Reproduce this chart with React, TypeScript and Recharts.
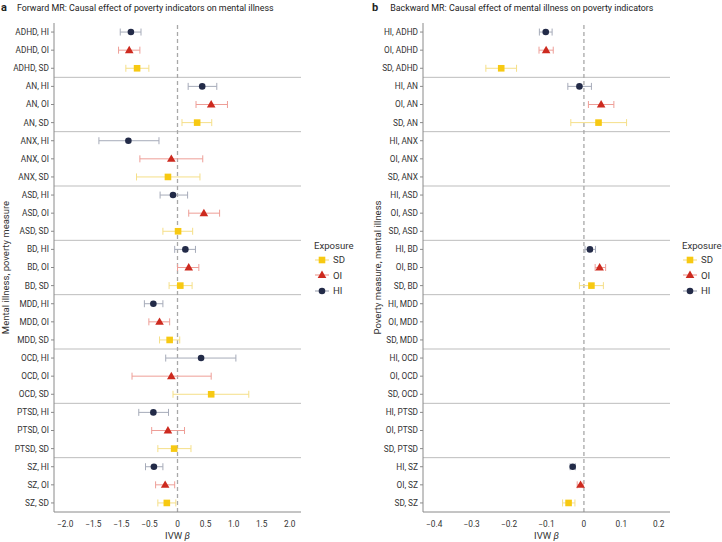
import React from "react";
import {
  ScatterChart,
  Scatter,
  XAxis,
  YAxis,
  ErrorBar,
  ReferenceLine,
} from "recharts";

const disorders = ["ADHD", "AN", "ANX", "ASD", "BD", "MDD", "OCD", "PTSD", "SZ"];
const exposures = ["HI", "OI", "SD"];

// forward MR: poverty indicator -> mental illness
const fwdHI = [-0.83, 0.44, -0.875, -0.08, 0.14, -0.43, 0.42, -0.43, -0.42];
const fwdHILow = [-1.02, 0.19, -1.4, -0.31, -0.05, -0.59, -0.21, -0.69, -0.57];
const fwdHIHigh = [-0.65, 0.7, -0.33, 0.18, 0.32, -0.26, 1.04, -0.16, -0.26];
const fwdOI = [-0.86, 0.6, -0.11, 0.47, 0.2, -0.32, -0.11, -0.17, -0.22];
const fwdOILow = [-1.05, 0.33, -0.67, 0.2, 0.0, -0.51, -0.81, -0.46, -0.39];
const fwdOIHigh = [-0.67, 0.89, 0.45, 0.75, 0.38, -0.14, 0.6, 0.125, -0.05];
const fwdSD = [-0.72, 0.35, -0.17, 0.01, 0.05, -0.14, 0.6, -0.06, -0.19];
const fwdSDLow = [-0.92, 0.08, -0.73, -0.26, -0.15, -0.32, -0.08, -0.35, -0.35];
const fwdSDHigh = [-0.51, 0.61, 0.4, 0.27, 0.26, 0.04, 1.27, 0.24, -0.03];

// backward MR: mental illness -> poverty indicator (null = not estimated)
const bwdHI = [-0.102, -0.012, null, null, 0.016, null, null, null, -0.03];
const bwdHILow = [-0.119, -0.043, null, null, 0.003, null, null, null, -0.037];
const bwdHIHigh = [-0.085, 0.02, null, null, 0.031, null, null, null, -0.023];
const bwdOI = [-0.101, 0.046, null, null, 0.042, null, null, null, -0.009];
const bwdOILow = [-0.12, 0.012, null, null, 0.03, null, null, null, -0.018];
const bwdOIHigh = [-0.082, 0.08, null, null, 0.058, null, null, null, -0.002];
const bwdSD = [-0.221, 0.039, null, null, 0.02, null, null, null, -0.041];
const bwdSDLow = [-0.262, -0.035, null, null, -0.012, null, null, null, -0.057];
const bwdSDHigh = [-0.18, 0.114, null, null, 0.052, null, null, null, -0.024];

const fwdTicks = [-2, -1.5, -1, -0.5, 0, 0.5, 1, 1.5, 2];
const fwdTickLabels = ["−2.0", "−1.5", "−1.5", "−0.5", "0", "0.5", "1.0", "1.5", "2.0"];
const bwdTicks = [-0.4, -0.3, -0.2, -0.1, 0, 0.1, 0.2];
const bwdTickLabels = ["−0.4", "−0.3", "−0.2", "−0.1", "0", "0.1", "0.2"];

const fwdLabels = disorders.flatMap((d) => exposures.map((e) => `${d}, ${e}`));
const bwdLabels = disorders.flatMap((d) => exposures.map((e) => `${e}, ${d}`));
const rowTicks = fwdLabels.map((_, i) => i);
const groupLines = disorders.slice(1).map((_, i) => i * 3 + 2.5);

const DOT = { HI: "#232b48", OI: "#cd2a1f", SD: "#f7c912" };
const BAR = { HI: "#a6abb9", OI: "#ee9e97", SD: "#f5df88" };
const FONT = "Roboto, sans-serif";
const TICK_SIZE = 8.3;

function rows(offset: number, beta: (number | null)[], lo: (number | null)[], hi: (number | null)[]) {
  const out: { x: number; y: number; err: [number, number] }[] = [];
  beta.forEach((b, i) => {
    if (b === null) return;
    out.push({ x: b, y: i * 3 + offset, err: [b - (lo[i] as number), (hi[i] as number) - b] });
  });
  return out;
}

const Circle = (p: any) => <circle cx={p.cx} cy={p.cy} r={3.3} fill={DOT.HI} />;
const Square = (p: any) => (
  <rect x={p.cx - 3.3} y={p.cy - 3.3} width={6.6} height={6.6} fill={DOT.SD} />
);
const Triangle = (p: any) => (
  <path
    d={`M${p.cx},${p.cy - 4.4} L${p.cx + 4.3},${p.cy + 3} L${p.cx - 4.3},${p.cy + 3} Z`}
    fill={DOT.OI}
  />
);

function XLabel({ viewBox }: any) {
  const cx = viewBox.x + viewBox.width / 2;
  return (
    <text x={cx} y={viewBox.y + 27} textAnchor="middle" fontSize={9.5} fill="#333" fontFamily={FONT}>
      IVW <tspan fontStyle="italic">β</tspan>
    </text>
  );
}

function YLabel({ viewBox, text, px }: any) {
  const cy = viewBox.y + viewBox.height / 2;
  return (
    <text
      x={px}
      y={cy}
      transform={`rotate(-90, ${px}, ${cy})`}
      textAnchor="middle"
      fontSize={9.5}
      fill="#333"
      fontFamily={FONT}
    >
      {text}
    </text>
  );
}

function RowTick({ x, y, payload, labels }: any) {
  return (
    <text x={x} y={y} dy="0.35em" textAnchor="end" fontSize={TICK_SIZE} fill="#333" fontFamily={FONT}>
      {labels[payload.value]}
    </text>
  );
}

function ValueTick({ x, y, payload, ticks, tickLabels }: any) {
  const i = ticks.findIndex((t: number) => Math.abs(t - payload.value) < 1e-9);
  return (
    <text x={x} y={y} dy="0.71em" textAnchor="middle" fontSize={TICK_SIZE} fill="#333" fontFamily={FONT}>
      {i >= 0 ? tickLabels[i] : String(payload.value)}
    </text>
  );
}

function Legend({ left, top }: { left: number; top: number }) {
  const items = [
    { name: "SD", shape: "square" },
    { name: "OI", shape: "triangle" },
    { name: "HI", shape: "circle" },
  ];
  return (
    <div style={{ position: "absolute", left, top, fontFamily: FONT, color: "#333" }}>
      <div style={{ fontSize: 9.6, height: 13, lineHeight: "13px" }}>Exposure</div>
      {items.map((it) => {
        const k = it.name as "SD" | "OI" | "HI";
        return (
          <div key={it.name} style={{ display: "flex", alignItems: "center", height: 15.5 }}>
            <svg width={16} height={12}>
              <line x1={1} x2={15} y1={6} y2={6} stroke={BAR[k]} strokeWidth={1.2} />
              {it.shape === "square" && <rect x={4.7} y={2.7} width={6.6} height={6.6} fill={DOT.SD} />}
              {it.shape === "circle" && <circle cx={8} cy={6} r={3.3} fill={DOT.HI} />}
              {it.shape === "triangle" && <path d="M8,1.6 L12.3,9 L3.7,9 Z" fill={DOT.OI} />}
            </svg>
            <span style={{ fontSize: 9.6, marginLeft: 3 }}>{it.name}</span>
          </div>
        );
      })}
    </div>
  );
}

function Panel(props: {
  width: number;
  axisWidth: number;
  right: number;
  domain: [number, number];
  ticks: number[];
  tickLabels: string[];
  labels: string[];
  yTitle: string;
  yTitleX: number;
  hi: any[];
  oi: any[];
  sd: any[];
}) {
  return (
    <ScatterChart
      width={props.width}
      height={542}
      margin={{ top: 23, right: props.right, bottom: 0, left: 0 }}
    >
      <XAxis
        type="number"
        dataKey="x"
        domain={props.domain}
        ticks={props.ticks}
        allowDataOverflow
        tick={<ValueTick ticks={props.ticks} tickLabels={props.tickLabels} />}
        tickSize={0}
        tickMargin={9}
        height={30}
        stroke="#8a8a8a"
        label={<XLabel />}
      />
      <YAxis
        type="number"
        dataKey="y"
        domain={[-0.5, 26.5]}
        reversed
        ticks={rowTicks}
        interval={0}
        tick={<RowTick labels={props.labels} />}
        tickSize={3}
        tickMargin={2}
        width={props.axisWidth}
        stroke="#8a8a8a"
        label={<YLabel text={props.yTitle} px={props.yTitleX} />}
      />
      {groupLines.map((g) => (
        <ReferenceLine key={g} y={g} stroke="#bdbdbd" strokeWidth={1} />
      ))}
      <ReferenceLine x={0} stroke="#a8a8a8" strokeWidth={1.3} strokeDasharray="4 3" />
      <Scatter data={props.hi} shape={Circle} isAnimationActive={false}>
        <ErrorBar dataKey="err" direction="x" width={3.5} stroke={BAR.HI} strokeWidth={1} />
      </Scatter>
      <Scatter data={props.oi} shape={Triangle} isAnimationActive={false}>
        <ErrorBar dataKey="err" direction="x" width={3.5} stroke={BAR.OI} strokeWidth={1} />
      </Scatter>
      <Scatter data={props.sd} shape={Square} isAnimationActive={false}>
        <ErrorBar dataKey="err" direction="x" width={3.5} stroke={BAR.SD} strokeWidth={1} />
      </Scatter>
    </ScatterChart>
  );
}

export default function App() {
  const titleStyle: React.CSSProperties = {
    position: "absolute",
    top: 1,
    fontSize: 8.9,
    color: "#222",
    fontFamily: FONT,
    whiteSpace: "nowrap",
  };
  return (
    <div style={{ position: "absolute", left: 0, top: 0, width: 722, height: 542, background: "#fff" }}>
      <div style={{ ...titleStyle, left: 1 }}>
        <b style={{ fontSize: 11 }}>a</b>
        <span style={{ marginLeft: 10 }}>Forward MR: Causal effect of poverty indicators on mental illness</span>
      </div>
      <div style={{ ...titleStyle, left: 372 }}>
        <b style={{ fontSize: 11 }}>b</b>
        <span style={{ marginLeft: 12 }}>Backward MR: Causal effect of mental illness on poverty indicators</span>
      </div>
      <div style={{ position: "absolute", left: 0, top: 0 }}>
        <Panel
          width={360}
          axisWidth={54}
          right={59}
          domain={[-2.2, 2.2]}
          ticks={fwdTicks}
          tickLabels={fwdTickLabels}
          labels={fwdLabels}
          yTitle="Mental illness, poverty measure"
          yTitleX={9}
          hi={rows(0, fwdHI, fwdHILow, fwdHIHigh)}
          oi={rows(1, fwdOI, fwdOILow, fwdOIHigh)}
          sd={rows(2, fwdSD, fwdSDLow, fwdSDHigh)}
        />
      </div>
      <div style={{ position: "absolute", left: 360, top: 0 }}>
        <Panel
          width={362}
          axisWidth={63}
          right={52}
          domain={[-0.43, 0.23]}
          ticks={bwdTicks}
          tickLabels={bwdTickLabels}
          labels={bwdLabels}
          yTitle="Poverty measure, mental illness"
          yTitleX={21}
          hi={rows(0, bwdHI, bwdHILow, bwdHIHigh)}
          oi={rows(1, bwdOI, bwdOILow, bwdOIHigh)}
          sd={rows(2, bwdSD, bwdSDLow, bwdSDHigh)}
        />
      </div>
      <Legend left={314} top={239} />
      <Legend left={682} top={239} />
    </div>
  );
}
